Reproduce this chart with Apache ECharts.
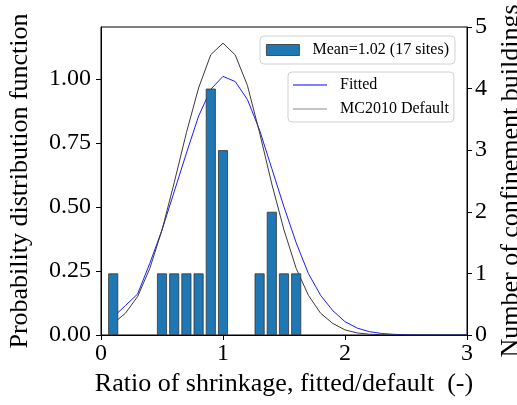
<!DOCTYPE html>
<html>
<head>
<meta charset="utf-8">
<script src="https://cdn.jsdelivr.net/npm/echarts@6/dist/echarts.min.js"></script>
<style>
  html, body { margin: 0; padding: 0; background: #fff; }
  #chart { width: 517px; height: 405px; }
</style>
</head>
<body>
<div id="chart"></div>
<script>
// Histogram of sites: bin centres (ratio) and number of buildings per bin
const binCentres = [0.1, 0.5, 0.6, 0.7, 0.8, 0.9, 1.0, 1.3, 1.4, 1.5, 1.6];
const buildingCounts = [1, 1, 1, 1, 1, 4, 3, 1, 2, 1, 1];

// Probability density curves sampled every 0.1
const ratioGrid = [0.1, 0.2, 0.3, 0.4, 0.5, 0.6, 0.7, 0.8, 0.9, 1.0,
                   1.1, 1.2, 1.3, 1.4, 1.5, 1.6, 1.7, 1.8, 1.9, 2.0,
                   2.1, 2.2, 2.3, 2.4, 2.5, 2.6, 2.7, 2.8, 2.9, 3.0];
const fittedPdf = [0.07, 0.115, 0.16, 0.28, 0.41, 0.56, 0.71, 0.855, 0.96, 1.01,
                   0.99, 0.92, 0.80, 0.65, 0.50, 0.36, 0.24, 0.155, 0.095, 0.052,
                   0.027, 0.013, 0.006, 0.0025, 0.001, 0.0004, 0.0001, 0.00005, 0.00001, 0.0];
const defaultPdf = [0.045, 0.085, 0.15, 0.26, 0.41, 0.595, 0.79, 0.965, 1.095, 1.14,
                    1.094, 0.975, 0.79, 0.59, 0.41, 0.26, 0.155, 0.085, 0.045, 0.02,
                    0.008, 0.003, 0.001, 0.0003, 0.0, 0.0, 0.0, 0.0, 0.0, 0.0];

const xTicks = [0, 1, 2, 3];
const pdfTicks = [0, 0.25, 0.5, 0.75, 1.0];
const countTicks = [0, 1, 2, 3, 4, 5];

const histName = 'Mean=1.02 (17 sites)';
const fittedName = 'Fitted';
const defaultName = 'MC2010 Default';

const FONT = '"Liberation Serif", "DejaVu Serif", serif';
const LINE_ICON = 'path://M0,0H34V1.2H0Z';
const zip = (a, b) => a.map((v, i) => [v, b[i]]);

const chart = echarts.init(document.getElementById('chart'), null, { renderer: 'canvas' });

const axisBase = {
  axisLine: { show: true, lineStyle: { color: '#000', width: 1 } },
  axisTick: { show: true, length: 5, lineStyle: { color: '#000', width: 1 } },
  splitLine: { show: false },
  nameTextStyle: { fontFamily: FONT, fontSize: 26, color: '#000' }
};

const legendBox = {
  backgroundColor: 'rgba(255,255,255,0.8)',
  borderColor: '#d0d0d0',
  borderWidth: 1,
  borderRadius: 4,
  textStyle: { fontFamily: FONT, fontSize: 16, color: '#000', padding: [0, 0, 0, 8] }
};

chart.setOption({
  animation: false,
  grid: {
    left: 101, right: 50, top: 27, bottom: 70,
    outerBoundsMode: 'none', containLabel: false,
    show: true, borderColor: '#000', borderWidth: 1, backgroundColor: 'transparent'
  },
  legend: [
    Object.assign({}, legendBox, {
      left: 260, top: 36,
      padding: [6, 6, 6, 6],
      itemWidth: 33, itemHeight: 11,
      data: [{ name: histName, icon: 'rect',
               itemStyle: { color: '#1f77b4', borderColor: '#333', borderWidth: 0.8 } }]
    }),
    Object.assign({}, legendBox, {
      left: 288, top: 72,
      orient: 'vertical',
      padding: [5, 5, 5, 5],
      itemWidth: 34, itemHeight: 14, itemGap: 8,
      data: [
        { name: fittedName, icon: LINE_ICON, itemStyle: { color: '#0000ff' } },
        { name: defaultName, icon: LINE_ICON, itemStyle: { color: '#8c8c8c' } }
      ]
    })
  ],
  xAxis: Object.assign({}, axisBase, {
    type: 'value', min: 0, max: 3, interval: 1,
    name: 'Ratio of shrinkage, fitted/default  (-)',
    nameLocation: 'middle', nameGap: 33,
    axisLabel: {
      fontFamily: FONT, fontSize: 24, color: '#000', margin: 7,
      customValues: xTicks
    },
    axisTick: Object.assign({}, axisBase.axisTick, { customValues: xTicks })
  }),
  yAxis: [
    Object.assign({}, axisBase, {
      type: 'value', min: 0, max: 1.203, position: 'left',
      name: 'Probability distribution function',
      nameLocation: 'middle', nameGap: 68, nameRotate: 90,
      axisLabel: {
        fontFamily: FONT, fontSize: 24, color: '#000', margin: 10,
        customValues: pdfTicks,
        formatter: v => v.toFixed(2)
      },
      axisTick: Object.assign({}, axisBase.axisTick, { customValues: pdfTicks })
    }),
    Object.assign({}, axisBase, {
      type: 'value', min: 0, max: 5, interval: 1, position: 'right',
      name: 'Number of confinement buildings',
      nameLocation: 'middle', nameGap: 26, nameRotate: 90,
      axisLabel: {
        fontFamily: FONT, fontSize: 24, color: '#000', margin: 8,
        customValues: countTicks
      },
      axisTick: Object.assign({}, axisBase.axisTick, { customValues: countTicks })
    })
  ],
  series: [
    {
      name: fittedName, type: 'line', yAxisIndex: 0, z: 2,
      data: zip(ratioGrid, fittedPdf),
      symbol: 'none', smooth: false,
      lineStyle: { color: '#0000ff', width: 0.9 },
      itemStyle: { color: '#0000ff' }
    },
    {
      name: defaultName, type: 'line', yAxisIndex: 0, z: 2,
      data: zip(ratioGrid, defaultPdf),
      symbol: 'none', smooth: false,
      lineStyle: { color: '#3a3a3a', width: 1 },
      itemStyle: { color: '#3a3a3a' }
    },
    {
      name: histName, type: 'bar', yAxisIndex: 1, z: 3,
      data: zip(binCentres, buildingCounts),
      barWidth: 10,
      itemStyle: { color: '#1f77b4', borderColor: '#333', borderWidth: 0.8 }
    }
  ]
});
</script>
</body>
</html>
